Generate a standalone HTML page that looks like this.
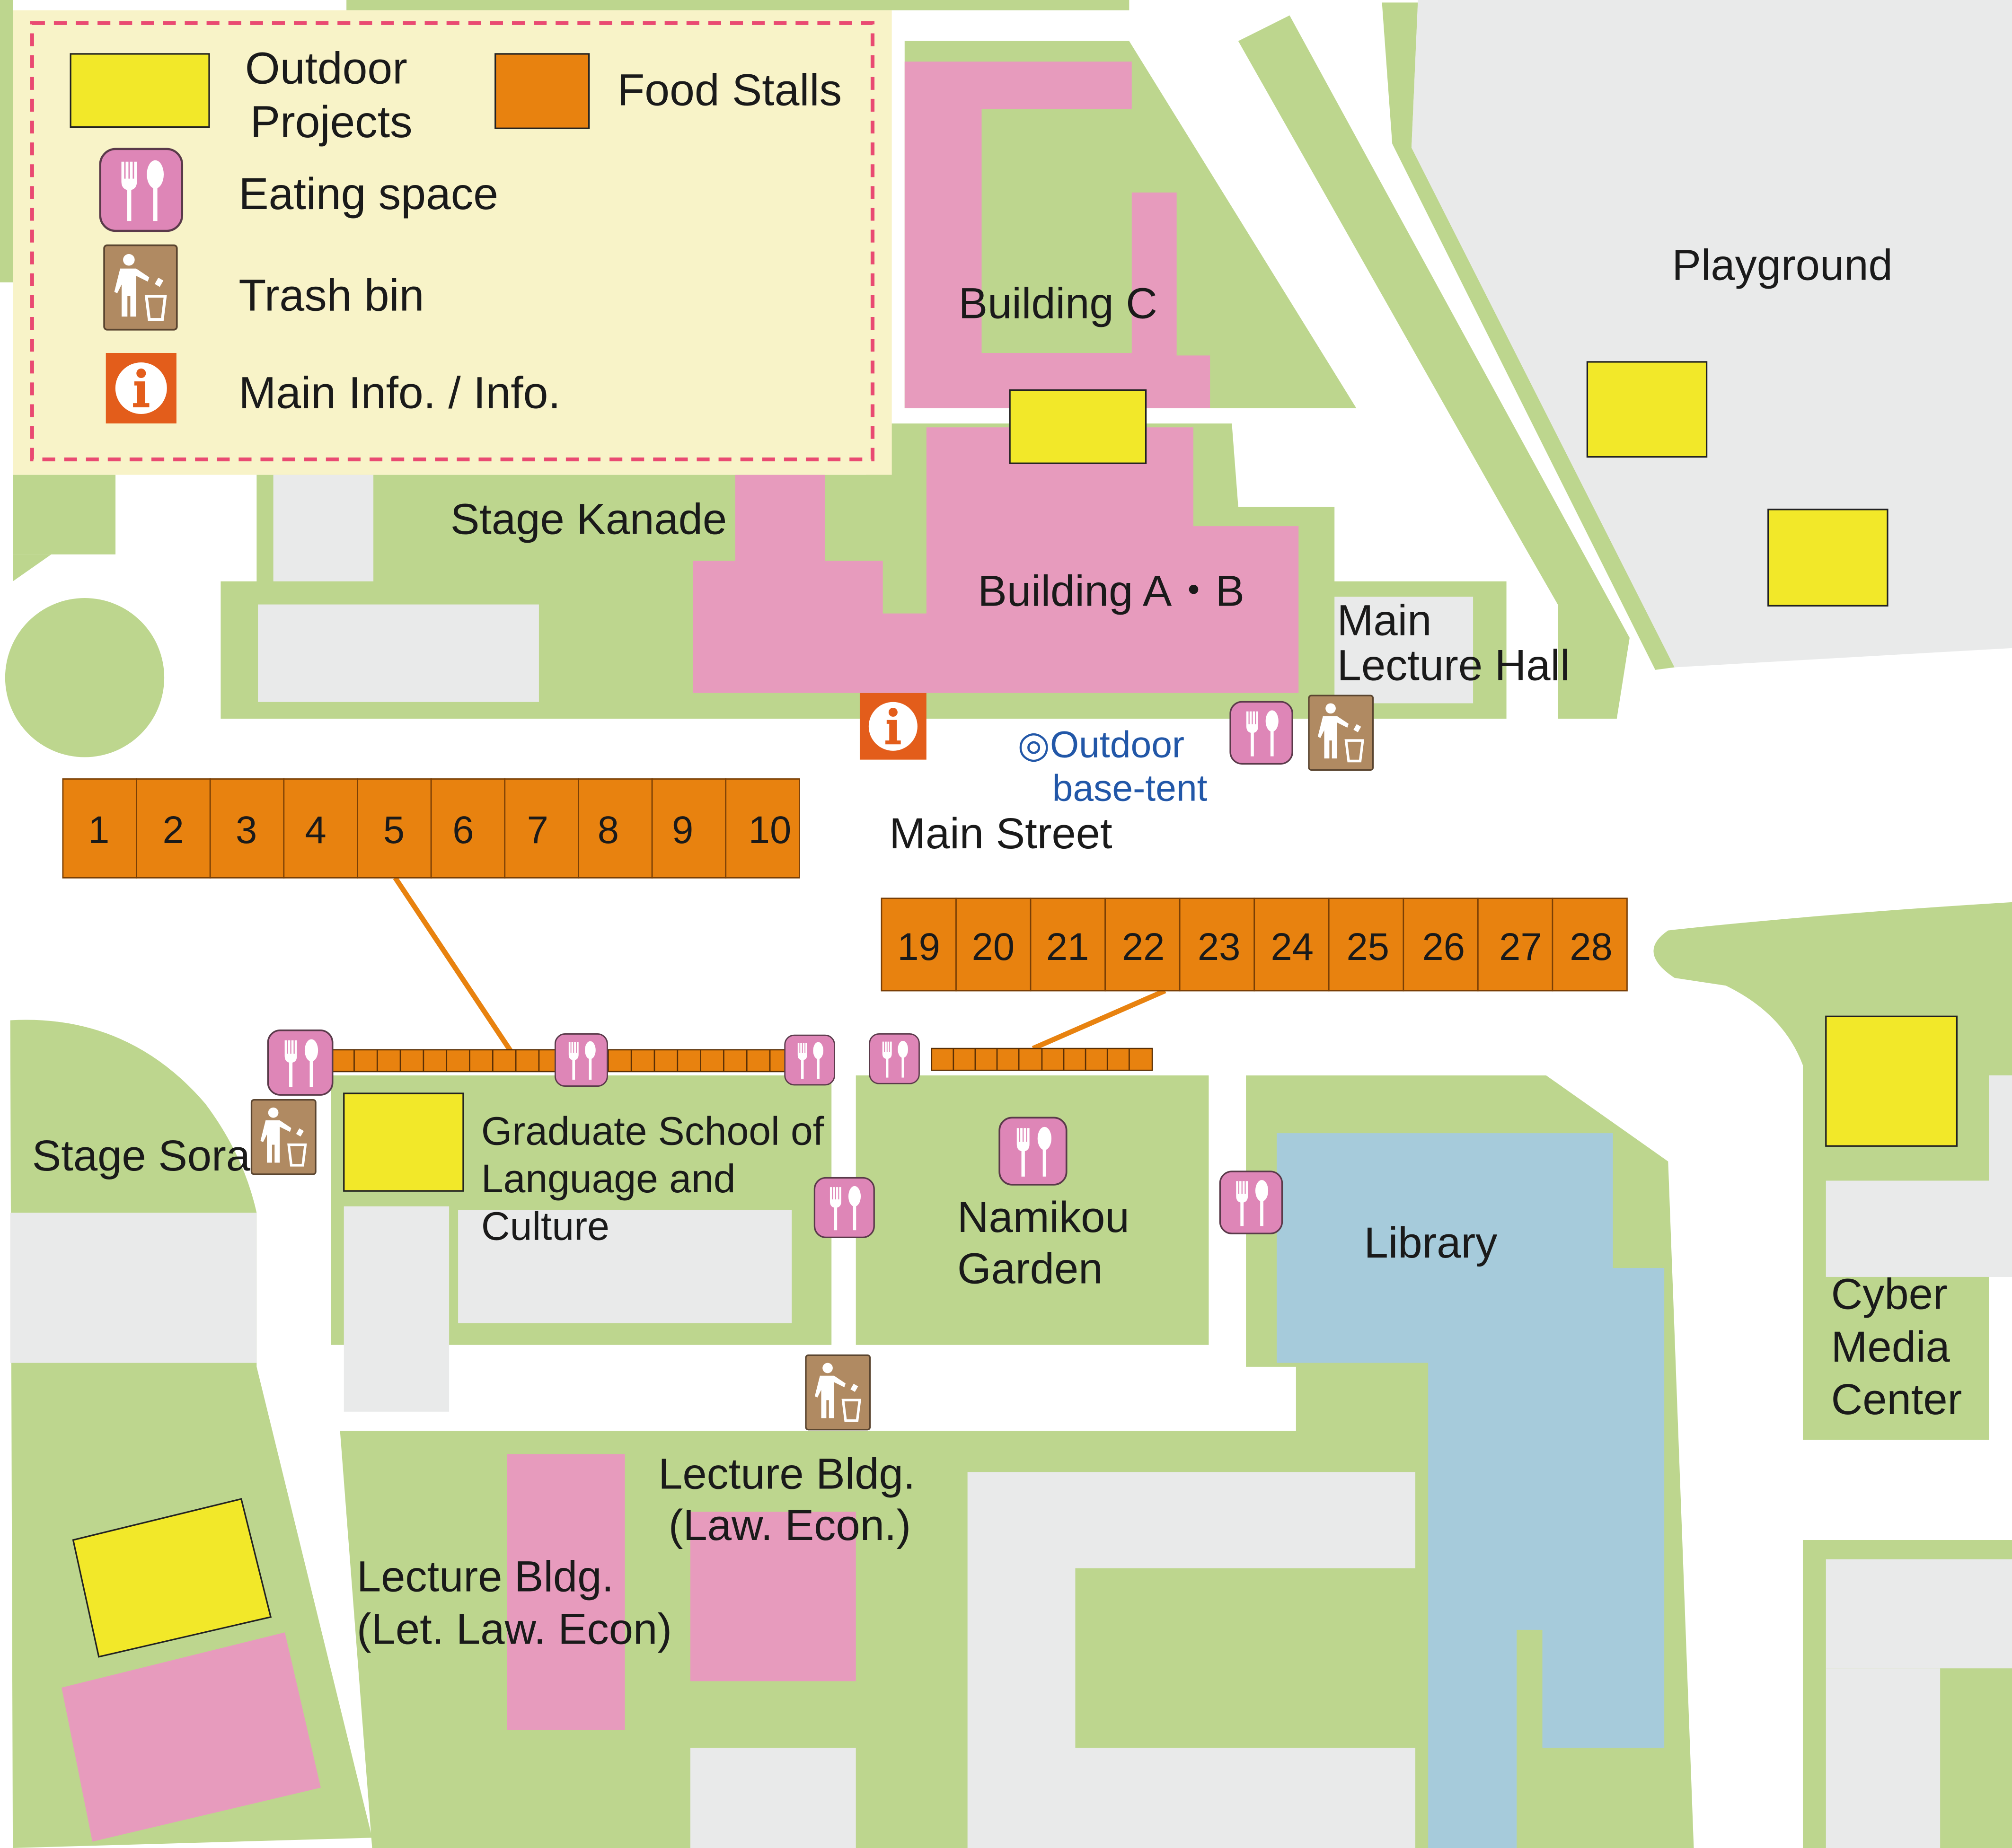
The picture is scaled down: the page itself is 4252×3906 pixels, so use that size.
<!DOCTYPE html>
<html><head><meta charset="utf-8"><style>
html,body{margin:0;padding:0;background:#fff}
svg{display:block}
text{font-family:"Liberation Sans",sans-serif;fill:#1a1a1a}
</style></head><body>
<svg width="4252" height="3906" viewBox="0 0 1568 1440" preserveAspectRatio="none" xmlns="http://www.w3.org/2000/svg">
<defs>
<symbol id="eat" viewBox="0 0 60 60">
<rect x="1" y="1" width="58" height="58" rx="11" fill="#de86b7" stroke="#5a3a4a" stroke-width="1.5"/>
<path d="M16 10v14q0 5 4 6v22h3V30q4-1 4-6V10h-2v12h-1V10h-2v12h-1V10h-2v12h-1V10z" fill="#fff"/>
<ellipse cx="40" cy="19" rx="6" ry="10" fill="#fff"/><rect x="38.5" y="26" width="3" height="26" fill="#fff"/>
</symbol>
<symbol id="trash" viewBox="0 0 52 60">
<rect x="1" y="1" width="50" height="58" rx="2" fill="#b08a62" stroke="#5a4530" stroke-width="1.2"/>
<circle cx="18" cy="11" r="4" fill="#fff"/>
<path d="M12 17h11l9 6-1 3-8-4v28h-4V36h-2v14h-4V28l-3 6-2-1z" fill="#fff"/>
<path d="M30 36h13l-2 16h-9z" fill="none" stroke="#fff" stroke-width="2"/>
<rect x="37" y="24" width="4" height="5" fill="#fff" transform="rotate(30 39 26)"/>
</symbol>
<symbol id="info" viewBox="0 0 52 52">
<rect x="0" y="0" width="52" height="52" fill="#e35d1b"/>
<circle cx="26" cy="26" r="19" fill="#fff"/>
<circle cx="26" cy="15" r="3.5" fill="#e35d1b"/>
<path d="M21 21h8v16h3v3H20v-3h3V24h-2z" fill="#e35d1b"/>
</symbol>
</defs>
<rect width="1568" height="1440" fill="#fff"/>
<g fill="#bdd68e">
<rect x="0" y="0" width="10" height="220"/>
<rect x="270" y="0" width="610" height="8"/>
<rect x="10" y="370" width="80" height="62"/>
<polygon points="10,432 40,432 10,453"/>
<polygon points="200,370 690,370 690,560 172,560 172,453 200,453"/>
<circle cx="66" cy="528" r="62"/>
<polygon points="705,32 880,32 1057,318 705,318"/>
<polygon points="675,330 960,330 965,395 1040,395 1040,453 1174,453 1174,560 675,560"/>
<polygon points="965,32 1005,12 1270,497 1260,560 1214,560 1214,471 1187,424"/>
<polygon points="1077,2 1105,2 1100,115 1305,520 1290,522 1085,112"/>
<path d="M1300,725 Q1420,712 1568,703 L1568,838 L1550,838 L1550,1122 L1405,1122 L1405,830 Q1390,790 1345,768 L1305,762 Q1275,742 1300,725 Z"/>
<rect x="1405" y="1200" width="163" height="240"/>
<path d="M8,795 Q100,790 160,860 Q190,900 200,945 L200,1065 L290,1432 L10,1440 Z"/>
<rect x="258" y="838" width="390" height="210"/>
<rect x="667" y="838" width="275" height="210"/>
<polygon points="971,838 1205,838 1300,905 1320,1440 290,1440 265,1115 1010,1115 1010,1065 971,1065"/>
</g>
<g fill="#e9eaea">
<polygon points="1105,0 1568,0 1568,505 1305,520 1100,115"/>
<rect x="1550" y="838" width="18" height="157"/>
<rect x="1423" y="920" width="145" height="75"/>
<rect x="1423" y="1215" width="145" height="85"/>
<rect x="1423" y="1300" width="89" height="140"/>
<rect x="8" y="945" width="192" height="117"/>
<rect x="268" y="940" width="82" height="160"/>
<rect x="357" y="943" width="260" height="88"/>
<polygon points="754,1147 1103,1147 1103,1222 838,1222 838,1362 1103,1362 1103,1440 754,1440"/>
<rect x="538" y="1362" width="129" height="78"/>
<rect x="213" y="370" width="78" height="83"/>
<rect x="201" y="471" width="219" height="76"/>
<rect x="1040" y="465" width="108" height="83"/>
</g>
<polygon fill="#a6cbdb" points="995,883 1257,883 1257,988 1297,988 1297,1362 1202,1362 1202,1270 1182,1270 1182,1440 1113,1440 1113,1062 995,1062"/>
<g fill="#e79bbd">
<polygon points="705,48 882,48 882,85 765,85 765,275 882,275 882,150 917,150 917,277 943,277 943,318 705,318"/>
<polygon points="573,370 643,370 643,437 688,437 688,478 722,478 722,333 930,333 930,410 1012,410 1012,540 540,540 540,437 573,437"/>
<rect x="395" y="1133" width="92" height="215"/>
<rect x="538" y="1178" width="129" height="132"/>
<polygon points="48,1315 222,1272 250,1393 72,1435"/>
</g>
<g fill="#f2e829" stroke="#222" stroke-width="1.2">
<rect x="787" y="304" width="106" height="57"/>
<rect x="1237" y="282" width="93" height="74"/>
<rect x="1378" y="397" width="93" height="75"/>
<rect x="1423" y="792" width="102" height="101"/>
<rect x="268" y="852" width="93" height="76"/>
<polygon points="57,1200 188,1168 211,1260 77,1291"/>
</g>
<!-- legend -->
<rect x="10" y="8" width="685" height="362" fill="#f8f3c8"/>
<rect x="25" y="18" width="655" height="340" fill="none" stroke="#e94a72" stroke-width="3" stroke-dasharray="10,7"/>
<rect x="55" y="42" width="108" height="57" fill="#f2e829" stroke="#222" stroke-width="1.2"/>
<rect x="386" y="42" width="73" height="58" fill="#e8820f" stroke="#222" stroke-width="1.2"/>
<use href="#eat" x="77" y="115" width="66" height="66"/>
<use href="#trash" x="80" y="190" width="59" height="68"/>
<use href="#info" x="82" y="275" width="56" height="55"/>
<g font-size="35">
<text x="191" y="65">Outdoor</text><text x="195" y="107">Projects</text>
<text x="481" y="82">Food Stalls</text>
<text x="186" y="163">Eating space</text>
<text x="186" y="242">Trash bin</text>
<text x="186" y="318">Main Info. / Info.</text>
</g>
<!-- stalls -->
<g stroke="#e8820f" stroke-width="4"><line x1="308" y1="684" x2="400" y2="822"/><line x1="908" y1="772" x2="805" y2="817"/></g>
<g fill="#e8820f" stroke="#7a3f05" stroke-width="1">
<rect x="49" y="607" width="57.4" height="77"/><rect x="106.4" y="607" width="57.4" height="77"/><rect x="163.8" y="607" width="57.4" height="77"/><rect x="221.2" y="607" width="57.4" height="77"/><rect x="278.6" y="607" width="57.4" height="77"/><rect x="336" y="607" width="57.4" height="77"/><rect x="393.4" y="607" width="57.4" height="77"/><rect x="450.8" y="607" width="57.4" height="77"/><rect x="508.2" y="607" width="57.4" height="77"/><rect x="565.6" y="607" width="57.4" height="77"/>
<rect x="687" y="700" width="58.1" height="72"/><rect x="745.1" y="700" width="58.1" height="72"/><rect x="803.2" y="700" width="58.1" height="72"/><rect x="861.3" y="700" width="58.1" height="72"/><rect x="919.4" y="700" width="58.1" height="72"/><rect x="977.5" y="700" width="58.1" height="72"/><rect x="1035.6" y="700" width="58.1" height="72"/><rect x="1093.7" y="700" width="58.1" height="72"/><rect x="1151.8" y="700" width="58.1" height="72"/><rect x="1209.9" y="700" width="58.1" height="72"/>
</g>
<g fill="#e8820f" stroke="#5a2f05" stroke-width="1">
<rect x="258" y="818" width="382" height="17"/><rect x="726" y="817" width="172" height="17"/>
</g>
<g stroke="#5a2f05" stroke-width="1">
<path d="M276 818v17M294 818v17M312 818v17M330 818v17M348 818v17M366 818v17M384 818v17M402 818v17M420 818v17M438 818v17M456 818v17M474 818v17M492 818v17M510 818v17M528 818v17M546 818v17M564 818v17M582 818v17M600 818v17M618 818v17M743 817v17M760 817v17M777 817v17M794 817v17M812 817v17M829 817v17M846 817v17M863 817v17M880 817v17"/>
</g>
<g font-size="30" text-anchor="middle">
<text x="77" y="657">1</text><text x="135" y="657">2</text><text x="192" y="657">3</text><text x="246" y="657">4</text><text x="307" y="657">5</text><text x="361" y="657">6</text><text x="419" y="657">7</text><text x="474" y="657">8</text><text x="532" y="657">9</text><text x="600" y="657">10</text>
<text x="716" y="748">19</text><text x="774" y="748">20</text><text x="832" y="748">21</text><text x="891" y="748">22</text><text x="950" y="748">23</text><text x="1007" y="748">24</text><text x="1066" y="748">25</text><text x="1125" y="748">26</text><text x="1185" y="748">27</text><text x="1240" y="748">28</text>
</g>
<!-- icons -->
<use href="#eat" x="208" y="802" width="52" height="52"/>
<use href="#eat" x="432" y="805" width="42" height="42"/>
<use href="#eat" x="611" y="806" width="40" height="40"/>
<use href="#eat" x="677" y="805" width="40" height="40"/>
<use href="#eat" x="778" y="870" width="54" height="54"/>
<use href="#eat" x="633" y="917" width="50" height="48"/>
<use href="#eat" x="950" y="912" width="50" height="50"/>
<use href="#eat" x="958" y="546" width="50" height="50"/>
<use href="#trash" x="195" y="856" width="52" height="60"/>
<use href="#trash" x="627" y="1055" width="52" height="60"/>
<use href="#trash" x="1019" y="541" width="52" height="60"/>
<use href="#info" x="670" y="540" width="52" height="52"/>
<!-- labels -->
<g font-size="34">
<text x="747" y="248">Building C</text>
<text x="762" y="472">Building A・B</text>
<text x="351" y="416">Stage Kanade</text>
<text x="1303" y="218">Playground</text>
<text x="1042" y="495">Main</text><text x="1042" y="530">Lecture Hall</text>
<text x="693" y="661">Main Street</text>
<text x="25" y="912">Stage Sora</text>
<text x="375" y="892" font-size="31">Graduate School of</text><text x="375" y="929" font-size="31">Language and</text><text x="375" y="966" font-size="31">Culture</text>
<text x="746" y="960">Namikou</text><text x="746" y="1000">Garden</text>
<text x="1063" y="980">Library</text>
<text x="1427" y="1020">Cyber</text><text x="1427" y="1061">Media</text><text x="1427" y="1102">Center</text>
<text x="513" y="1160">Lecture Bldg.</text><text x="521" y="1200">(Law. Econ.)</text>
<text x="278" y="1240">Lecture Bldg.</text><text x="278" y="1281">(Let. Law. Econ)</text>
</g>
<g font-size="29"><text x="793" y="590" style="fill:#2257a8">◎Outdoor</text><text x="820" y="624" style="fill:#2257a8">base-tent</text></g>
</svg>
</body></html>
